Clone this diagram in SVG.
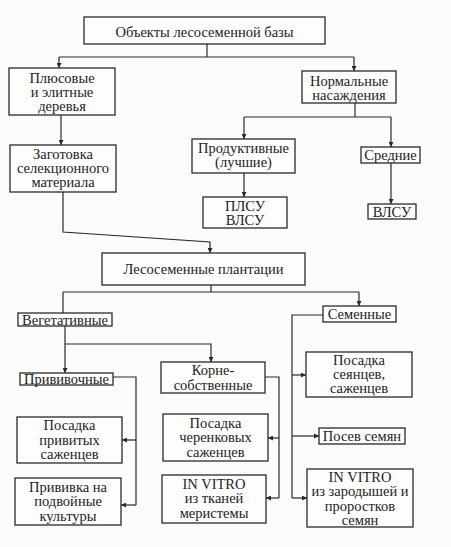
<svg xmlns="http://www.w3.org/2000/svg" width="451" height="547" viewBox="0 0 451 547">
<defs>
<style>
.b{fill:#fdfdfd;stroke:#2a2a2a;stroke-width:1.3}
.t{font-family:"Liberation Serif",serif;font-size:14.5px;fill:#1e1e1e;text-anchor:middle}
.c{fill:none;stroke:#2a2a2a;stroke-width:1.2}
</style>
<marker id="a" viewBox="0 0 8 8" refX="8" refY="4" markerWidth="5" markerHeight="5" orient="auto" markerUnits="userSpaceOnUse"><path d="M0,0 L8,4 L0,8 z" fill="#2a2a2a"/></marker>
</defs>
<rect width="451" height="547" fill="#fbfbfb"/>
<g id="connectors">
<path class="c" d="M207,44 V57 M59,57 H354"/>
<path class="c" d="M59,57 V68" marker-end="url(#a)"/>
<path class="c" d="M354,57 V71" marker-end="url(#a)"/>
<path class="c" d="M355,103 V117 M244,117 H391"/>
<path class="c" d="M244,117 V139" marker-end="url(#a)"/>
<path class="c" d="M391,117 V147" marker-end="url(#a)"/>
<path class="c" d="M61,115 V145" marker-end="url(#a)"/>
<path class="c" d="M244,173 V197" marker-end="url(#a)"/>
<path class="c" d="M391,163 V204" marker-end="url(#a)"/>
<path class="c" d="M63,192 V232 L210,242 V253" marker-end="url(#a)"/>
<path class="c" d="M211,285 V292 M63,292 H359 M63,292 V313"/>
<path class="c" d="M359,292 V306" marker-end="url(#a)"/>
<path class="c" d="M65,326 V373" marker-end="url(#a)"/>
<path class="c" d="M65,344 H211 V362" marker-end="url(#a)"/>
<path class="c" d="M323,315 H292 V498"/>
<path class="c" d="M292,375 H306" marker-end="url(#a)"/>
<path class="c" d="M292,436 H319" marker-end="url(#a)"/>
<path class="c" d="M292,498 H307" marker-end="url(#a)"/>
<path class="c" d="M113,377 H136 V505"/>
<path class="c" d="M136,440 H122" marker-end="url(#a)"/>
<path class="c" d="M136,505 H121" marker-end="url(#a)"/>
<path class="c" d="M265,377 H279 V498"/>
<path class="c" d="M279,438 H268" marker-end="url(#a)"/>
<path class="c" d="M279,498 H266" marker-end="url(#a)"/>
</g>
<g id="n1"><rect class="b" x="84" y="17" width="241" height="27"/><text class="t" x="204.5" y="36.5">Объекты лесосеменной базы</text></g>
<g id="n2"><rect class="b" x="9" y="68" width="106" height="47"/><text class="t" x="62" y="83">Плюсовые</text><text class="t" x="62" y="97">и элитные</text><text class="t" x="62" y="111">деревья</text></g>
<g id="n3"><rect class="b" x="302" y="71" width="94" height="32"/><text class="t" x="349" y="86">Нормальные</text><text class="t" x="349" y="100">насаждения</text></g>
<g id="n4"><rect class="b" x="10" y="145" width="106" height="47"/><text class="t" x="63" y="159">Заготовка</text><text class="t" x="63" y="173">селекционного</text><text class="t" x="63" y="187">материала</text></g>
<g id="n5"><rect class="b" x="192" y="139" width="103" height="34"/><text class="t" x="243.5" y="153">Продуктивные</text><text class="t" x="243.5" y="167">(лучшие)</text></g>
<g id="n6"><rect class="b" x="361" y="147" width="59" height="16"/><text class="t" x="390.5" y="160">Средние</text></g>
<g id="n7"><rect class="b" x="203" y="197" width="84" height="31"/><text class="t" x="245" y="211">ПЛСУ</text><text class="t" x="245" y="225">ВЛСУ</text></g>
<g id="n8"><rect class="b" x="368" y="204" width="48" height="15"/><text class="t" x="392" y="216.5">ВЛСУ</text></g>
<g id="n9"><rect class="b" x="102" y="253" width="203" height="32"/><text class="t" x="203.5" y="274">Лесосеменные плантации</text></g>
<g id="n10"><rect class="b" x="18" y="313" width="94" height="13"/><text class="t" x="65" y="324.5">Вегетативные</text></g>
<g id="n11"><rect class="b" x="323" y="306" width="73" height="16"/><text class="t" x="359.5" y="319">Семенные</text></g>
<g id="n12"><rect class="b" x="20" y="373" width="93" height="12"/><text class="t" x="66.5" y="384">Прививочные</text></g>
<g id="n13"><rect class="b" x="161" y="362" width="104" height="31"/><text class="t" x="213" y="375">Корне-</text><text class="t" x="213" y="390">собственные</text></g>
<g id="n14"><rect class="b" x="306" y="352" width="106" height="45"/><text class="t" x="359" y="365">Посадка</text><text class="t" x="359" y="379">сеянцев,</text><text class="t" x="359" y="393">саженцев</text></g>
<g id="n15"><rect class="b" x="17" y="417" width="105" height="46"/><text class="t" x="69.5" y="430">Посадка</text><text class="t" x="69.5" y="445">привитых</text><text class="t" x="69.5" y="459">саженцев</text></g>
<g id="n16"><rect class="b" x="163" y="414" width="105" height="47"/><text class="t" x="215.5" y="428">Посадка</text><text class="t" x="215.5" y="442">черенковых</text><text class="t" x="215.5" y="457">саженцев</text></g>
<g id="n17"><rect class="b" x="319" y="428" width="86" height="16"/><text class="t" x="362" y="441">Посев семян</text></g>
<g id="n18"><rect class="b" x="15" y="478" width="106" height="47"/><text class="t" x="68" y="492">Прививка на</text><text class="t" x="68" y="506">подвойные</text><text class="t" x="68" y="521">культуры</text></g>
<g id="n19"><rect class="b" x="162" y="475" width="104" height="48"/><text class="t" x="214" y="489">IN VITRO</text><text class="t" x="214" y="503">из тканей</text><text class="t" x="214" y="518">меристемы</text></g>
<g id="n20"><rect class="b" x="307" y="469" width="106" height="58"/><text class="t" x="360" y="482">IN VITRO</text><text class="t" x="360" y="496">из зародышей и</text><text class="t" x="360" y="511">проростков</text><text class="t" x="360" y="525">семян</text></g>
</svg>
